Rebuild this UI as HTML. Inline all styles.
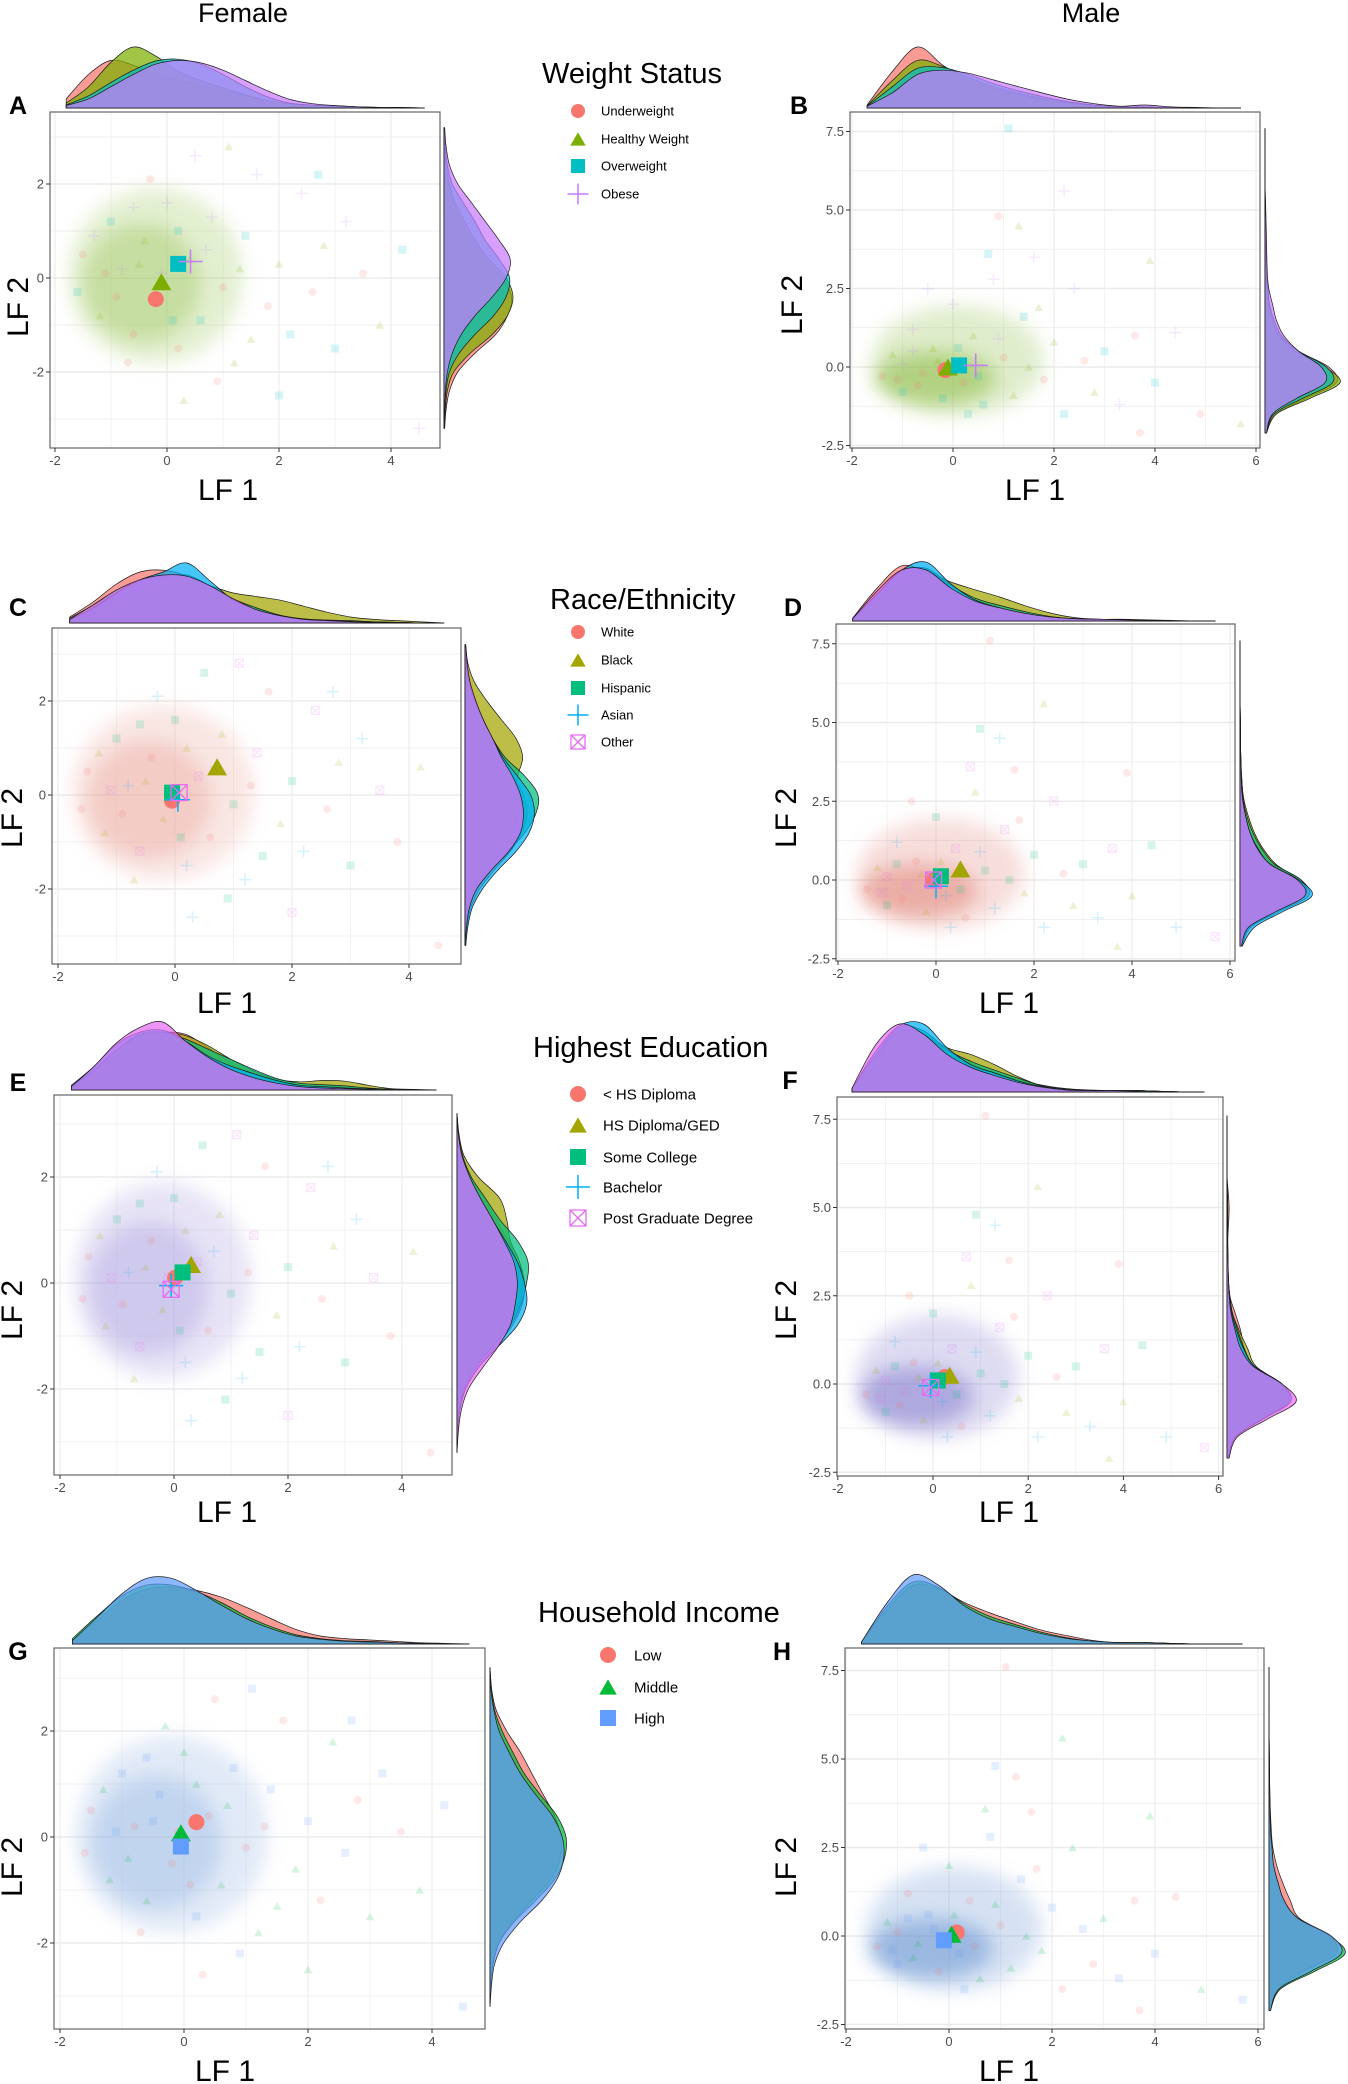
<!DOCTYPE html>
<html><head><meta charset="utf-8">
<style>
html,body{margin:0;padding:0;background:#fff;}
svg{display:block;font-family:"Liberation Sans",Arial,sans-serif;}
</style></head>
<body>
<svg id="fig" width="1348" height="2084" viewBox="0 0 1348 2084" xmlns="http://www.w3.org/2000/svg">
<defs>
<filter id="blur" x="-50%" y="-50%" width="200%" height="200%"><feGaussianBlur stdDeviation="9"/></filter>
</defs>
<text x="243" y="22" font-size="27" text-anchor="middle">Female</text>
<text x="1091" y="22" font-size="27" text-anchor="middle">Male</text>
</svg>
<script>
// ---------- data ----------
const femaleTopGrid = [-1.8,-1.4,-1,-0.6,-0.2,0.2,0.6,1,1.4,1.8,2.2,2.6,3,3.4,3.8,4.2,4.6];
const femaleRightGrid = [-3.2,-2.8,-2.4,-2,-1.6,-1.2,-0.8,-0.4,0,0.4,0.8,1.2,1.6,2,2.4,2.8,3.2];
const maleTopGrid = [-1.7,-1.2,-0.7,-0.2,0.3,0.8,1.3,1.8,2.3,2.8,3.3,3.8,4.3,4.8,5.3,5.7];
const maleRightGrid = [-2.1,-1.5,-1,-0.5,0,0.5,1,1.5,2,2.5,3,4,5,6,7.6];

const weightLabels = ["Underweight","Healthy Weight","Overweight","Obese"];
const raceLabels = ["White","Black","Hispanic","Asian","Other"];
const eduLabels = ["< HS Diploma","HS Diploma/GED","Some College","Bachelor","Post Graduate Degree"];
const incomeLabels = ["Low","Middle","High"];

const femaleXTicks = [-2,0,2,4];
const femaleYTicks = [-2,0,2];
const maleXTicks = [-2,0,2,4,6];
const maleYTicks = [-2.5,0,2.5,5,7.5];
const maleYTickLabels = ["-2.5","0.0","2.5","5.0","7.5"];

// marginal densities (relative heights)
const aTop = [
 [0.15,0.55,0.78,0.7,0.55,0.45,0.38,0.3,0.2,0.12,0.06,0.03,0.02,0.01,0,0,0],
 [0.08,0.35,0.75,1.0,0.85,0.6,0.45,0.33,0.22,0.12,0.07,0.04,0.03,0.02,0.01,0,0],
 [0.05,0.2,0.42,0.62,0.77,0.8,0.72,0.55,0.35,0.18,0.08,0.05,0.04,0.02,0.01,0,0],
 [0.04,0.15,0.35,0.55,0.72,0.78,0.74,0.62,0.45,0.28,0.14,0.07,0.04,0.02,0.01,0.01,0]];
const aRight = [
 [0.01,0.03,0.08,0.2,0.45,0.75,0.92,0.98,0.85,0.6,0.4,0.25,0.14,0.07,0.03,0.01,0],
 [0,0.02,0.05,0.14,0.38,0.7,0.92,1.0,0.9,0.65,0.45,0.3,0.16,0.08,0.03,0.01,0],
 [0,0.01,0.03,0.08,0.22,0.45,0.72,0.9,0.95,0.8,0.6,0.45,0.28,0.12,0.05,0.02,0],
 [0,0.01,0.02,0.05,0.12,0.25,0.45,0.7,0.9,0.96,0.8,0.6,0.4,0.2,0.08,0.03,0.01]];
const bTop = [
 [0.05,0.6,1.0,0.7,0.45,0.32,0.22,0.14,0.08,0.03,0.01,0.01,0.01,0,0,0],
 [0.04,0.45,0.78,0.68,0.5,0.35,0.24,0.15,0.09,0.04,0.02,0.01,0.01,0,0,0],
 [0.03,0.35,0.65,0.66,0.55,0.4,0.28,0.18,0.1,0.05,0.02,0.02,0.01,0,0,0],
 [0.03,0.25,0.55,0.62,0.57,0.46,0.35,0.24,0.14,0.07,0.03,0.05,0.02,0.01,0,0]];
const bRight = [
 [0.02,0.15,0.55,0.95,0.85,0.45,0.2,0.1,0.05,0.03,0.02,0.01,0.005,0,0],
 [0.02,0.15,0.6,1.0,0.8,0.4,0.18,0.1,0.05,0.03,0.02,0.01,0.005,0,0],
 [0.02,0.12,0.5,0.9,0.82,0.45,0.22,0.12,0.06,0.04,0.02,0.01,0.005,0,0],
 [0.02,0.1,0.42,0.8,0.75,0.45,0.25,0.15,0.1,0.05,0.03,0.02,0.01,0,0]];
const cTop = [
 [0.1,0.35,0.65,0.85,0.88,0.78,0.5,0.32,0.2,0.12,0.07,0.04,0.02,0.01,0.01,0,0],
 [0.03,0.15,0.35,0.55,0.72,0.76,0.62,0.5,0.44,0.38,0.28,0.18,0.1,0.06,0.04,0.02,0],
 [0.08,0.3,0.55,0.7,0.78,0.8,0.62,0.4,0.25,0.13,0.07,0.05,0.04,0.02,0.01,0,0],
 [0.05,0.25,0.5,0.72,0.85,1.0,0.7,0.38,0.22,0.12,0.06,0.04,0.03,0.02,0.01,0,0],
 [0.06,0.3,0.55,0.72,0.8,0.78,0.62,0.4,0.22,0.12,0.06,0.04,0.02,0.01,0.01,0,0]];
const cRight = [
 [0.01,0.03,0.08,0.2,0.4,0.62,0.78,0.85,0.8,0.65,0.5,0.38,0.25,0.14,0.06,0.02,0],
 [0,0.01,0.04,0.12,0.3,0.5,0.65,0.72,0.7,0.72,0.79,0.7,0.5,0.3,0.13,0.04,0.01],
 [0,0.02,0.06,0.16,0.36,0.6,0.82,0.97,1.0,0.82,0.55,0.38,0.25,0.14,0.06,0.02,0],
 [0.01,0.04,0.1,0.24,0.45,0.7,0.88,0.95,0.9,0.72,0.52,0.38,0.25,0.14,0.06,0.02,0],
 [0,0.02,0.06,0.16,0.36,0.6,0.76,0.8,0.76,0.65,0.5,0.38,0.25,0.15,0.07,0.03,0.01]];
const dTop = [
 [0.05,0.55,0.92,0.8,0.5,0.3,0.2,0.12,0.06,0.03,0.02,0.02,0.01,0,0,0],
 [0.03,0.35,0.7,0.82,0.65,0.52,0.4,0.26,0.14,0.06,0.03,0.03,0.02,0.01,0,0],
 [0.04,0.45,0.82,0.88,0.6,0.38,0.26,0.16,0.08,0.04,0.03,0.02,0.01,0,0,0],
 [0.04,0.45,0.85,0.98,0.62,0.35,0.22,0.13,0.07,0.04,0.03,0.02,0.01,0,0,0],
 [0.04,0.5,0.85,0.85,0.55,0.33,0.22,0.13,0.07,0.04,0.03,0.02,0.01,0,0,0]];
const dRight = [
 [0.03,0.15,0.55,0.95,0.85,0.45,0.25,0.13,0.07,0.04,0.02,0.01,0.005,0,0],
 [0.02,0.12,0.45,0.85,0.8,0.5,0.32,0.2,0.12,0.06,0.03,0.01,0.005,0,0],
 [0.02,0.12,0.5,0.9,0.85,0.48,0.3,0.18,0.1,0.05,0.03,0.01,0.005,0,0],
 [0.03,0.2,0.6,1.0,0.82,0.42,0.25,0.14,0.08,0.04,0.02,0.01,0.005,0,0],
 [0.02,0.12,0.5,0.9,0.8,0.42,0.24,0.14,0.08,0.04,0.02,0.01,0.005,0,0]];
const eTop = [
 [0.05,0.3,0.6,0.8,0.85,0.82,0.62,0.4,0.24,0.13,0.06,0.05,0.04,0.02,0.01,0,0],
 [0.04,0.28,0.58,0.8,0.85,0.8,0.65,0.45,0.28,0.16,0.12,0.14,0.13,0.07,0.02,0.01,0],
 [0.05,0.3,0.6,0.82,0.85,0.75,0.6,0.45,0.3,0.17,0.1,0.08,0.06,0.03,0.01,0,0],
 [0.07,0.35,0.68,0.85,0.88,0.72,0.5,0.35,0.24,0.14,0.07,0.05,0.03,0.02,0.01,0,0],
 [0.05,0.35,0.7,0.92,1.0,0.72,0.48,0.3,0.18,0.1,0.05,0.03,0.02,0.01,0,0,0]];
const eRight = [
 [0,0.01,0.04,0.12,0.3,0.55,0.78,0.92,0.95,0.88,0.72,0.55,0.38,0.2,0.08,0.02,0],
 [0,0.01,0.03,0.1,0.25,0.5,0.72,0.88,0.92,0.88,0.75,0.7,0.6,0.3,0.1,0.03,0],
 [0,0.01,0.03,0.1,0.25,0.5,0.75,0.9,0.98,1.0,0.85,0.6,0.4,0.2,0.08,0.02,0],
 [0,0.01,0.04,0.12,0.3,0.58,0.85,0.98,0.95,0.85,0.68,0.5,0.33,0.18,0.07,0.02,0],
 [0,0.02,0.06,0.16,0.36,0.58,0.75,0.82,0.85,0.8,0.66,0.5,0.33,0.18,0.07,0.02,0]];
const fTop = [
 [0.05,0.55,0.9,0.85,0.6,0.42,0.28,0.18,0.1,0.05,0.03,0.02,0.02,0.01,0,0],
 [0.04,0.5,0.9,0.85,0.65,0.55,0.4,0.22,0.09,0.04,0.02,0.02,0.02,0.01,0,0],
 [0.05,0.55,0.95,0.9,0.62,0.45,0.32,0.2,0.09,0.04,0.02,0.02,0.02,0.01,0,0],
 [0.05,0.6,0.98,1.0,0.65,0.4,0.28,0.16,0.08,0.04,0.02,0.02,0.02,0.01,0,0],
 [0.06,0.7,1.0,0.85,0.55,0.36,0.24,0.14,0.07,0.03,0.02,0.02,0.01,0,0,0]];
const fRight = [
 [0.02,0.12,0.45,0.85,0.75,0.4,0.25,0.2,0.12,0.04,0.02,0.01,0.03,0,0],
 [0.02,0.12,0.5,0.88,0.78,0.42,0.3,0.18,0.08,0.04,0.02,0.01,0.01,0,0],
 [0.02,0.12,0.5,0.9,0.78,0.4,0.25,0.16,0.08,0.04,0.02,0.01,0.01,0,0],
 [0.02,0.13,0.52,0.92,0.8,0.4,0.24,0.14,0.07,0.04,0.02,0.01,0.01,0,0],
 [0.03,0.15,0.58,1.0,0.8,0.38,0.2,0.12,0.06,0.03,0.02,0.01,0.005,0,0]];
const gTop = [
 [0.05,0.35,0.65,0.82,0.85,0.8,0.7,0.55,0.38,0.22,0.12,0.08,0.06,0.04,0.02,0.01,0],
 [0.08,0.42,0.72,0.88,0.88,0.78,0.62,0.42,0.26,0.14,0.08,0.05,0.04,0.02,0.01,0,0],
 [0.05,0.4,0.75,0.98,0.98,0.8,0.58,0.38,0.23,0.12,0.07,0.04,0.03,0.02,0.01,0,0]];
const gRight = [
 [0,0.01,0.04,0.12,0.3,0.55,0.8,0.92,0.93,0.85,0.7,0.55,0.4,0.22,0.08,0.02,0],
 [0,0.01,0.04,0.12,0.32,0.6,0.85,0.98,1.0,0.88,0.66,0.45,0.3,0.16,0.06,0.02,0],
 [0,0.02,0.06,0.18,0.4,0.68,0.88,0.97,0.95,0.82,0.6,0.4,0.25,0.12,0.05,0.01,0]];
const hTop = [
 [0.03,0.5,0.85,0.8,0.6,0.45,0.32,0.2,0.12,0.05,0.02,0.02,0.01,0,0,0],
 [0.03,0.55,0.9,0.82,0.58,0.4,0.28,0.17,0.09,0.04,0.02,0.02,0.01,0,0,0],
 [0.03,0.6,1.0,0.85,0.55,0.36,0.25,0.15,0.08,0.04,0.02,0.02,0.01,0,0,0]];
const hRight = [
 [0.02,0.12,0.45,0.88,0.8,0.4,0.28,0.18,0.1,0.05,0.03,0.01,0.005,0,0],
 [0.02,0.15,0.6,1.0,0.8,0.38,0.2,0.12,0.06,0.04,0.02,0.01,0.005,0,0],
 [0.02,0.13,0.55,0.95,0.82,0.38,0.2,0.12,0.06,0.04,0.02,0.01,0.005,0,0]];

// group centroids [LF1, LF2]
const aCent = [[-0.2,-0.45],[-0.1,-0.08],[0.2,0.3],[0.42,0.35]];
const bCent = [[-0.15,-0.1],[-0.1,0.0],[0.12,0.05],[0.45,0.05]];
const cCent = [[-0.05,-0.12],[0.72,0.6],[-0.05,0.05],[0.05,-0.1],[0.07,0.05]];
const dCent = [[-0.05,0.0],[0.5,0.35],[0.1,0.12],[0.0,-0.2],[-0.05,0.0]];
const eCent = [[0.02,0.1],[0.3,0.35],[0.15,0.2],[-0.05,-0.05],[-0.05,-0.12]];
const fCent = [[0.25,0.2],[0.35,0.25],[0.1,0.1],[-0.05,-0.05],[-0.05,-0.1]];
const gCent = [[0.2,0.28],[-0.05,0.08],[-0.05,-0.18]];
const hCent = [[0.15,0.1],[0.05,0.05],[-0.1,-0.12]];

// individual (faint) observations [LF1, LF2]
const femalePts = [[-1.5,0.5],[-1.2,-0.8],[-1,1.2],[-0.8,0.2],[-0.6,-1.2],[-0.4,0.8],[-0.2,-0.5],[0,1.6],[0.2,-1.5],[0.4,0.4],
 [0.6,-0.9],[0.8,1.3],[1,-0.2],[1.2,-1.8],[1.4,0.9],[1.6,2.2],[1.8,-0.6],[2,0.3],[2.2,-1.2],[2.4,1.8],
 [2.6,-0.3],[2.8,0.7],[3,-1.5],[3.2,1.2],[3.5,0.1],[3.8,-1.0],[4.2,0.6],[0.5,2.6],[-0.3,2.1],[1.1,2.8],
 [-1.6,-0.3],[-1.3,0.9],[0.9,-2.2],[0.3,-2.6],[2.0,-2.5],[4.5,-3.2],[-0.7,-1.8],[1.5,-1.3],[2.7,2.2],[-0.1,0.1],
 [-0.9,-0.4],[-0.5,0.3],[0.1,-0.9],[0.7,0.6],[-1.1,0.1],[1.3,0.2],[0.2,1.0],[-0.6,1.5]];
const malePts = [[-1.4,-0.3],[-1.2,0.4],[-1,-0.8],[-0.8,1.2],[-0.6,-0.2],[-0.4,0.6],[-0.2,-1.0],[0,2.0],[0.2,-0.5],[0.4,1.0],
 [0.6,-1.2],[0.8,2.8],[1,0.3],[1.2,-0.9],[1.4,1.6],[1.6,3.5],[1.8,-0.4],[2.0,0.8],[2.2,-1.5],[2.4,2.5],
 [2.6,0.2],[2.8,-0.8],[3.0,0.5],[3.3,-1.2],[3.6,1.0],[3.9,3.4],[4.0,-0.5],[4.4,1.1],[4.9,-1.5],[5.7,-1.8],
 [1.1,7.6],[2.2,5.6],[0.9,4.8],[1.3,4.5],[0.7,3.6],[-0.5,2.5],[3.7,-2.1],[1.5,0.0],[0.3,-1.5],[-1.0,0.1],
 [-0.7,-0.6],[-0.3,0.2],[0.5,-0.3],[0.9,0.9],[-1.1,-0.4],[1.7,1.9],[0.1,0.6],[-0.8,0.5]];

// ---------- styles ----------
const colsWeight = ["#F8766D","#7CAE00","#00BFC4","#C77CFF"];
const cols5 = ["#F8766D","#A3A500","#00BF7D","#00B0F6","#E76BF3"];
const colsInc = ["#F8766D","#00BA38","#619CFF"];
const shapes4 = ["circle","triangle","square","plus"];
const shapes5 = ["circle","triangle","square","plus","boxx"];
const shapes3 = ["circle","triangle","square"];

const svg = document.getElementById('fig');
const NS = "http://www.w3.org/2000/svg";
function mk(tag, attrs, parent){ const e=document.createElementNS(NS,tag); for(const k in attrs) e.setAttribute(k,attrs[k]); (parent||svg).appendChild(e); return e; }

function glyph(g, kind, cx, cy, s, color, op){
  let e;
  if(kind==="circle"){ e=mk('circle',{cx,cy,r:s/2,fill:color,'fill-opacity':op},g); }
  else if(kind==="triangle"){ const h=s*0.95; e=mk('polygon',{points:`${cx-s/2*1.1},${cy+h/2} ${cx+s/2*1.1},${cy+h/2} ${cx},${cy-h/2}`,fill:color,'fill-opacity':op},g); }
  else if(kind==="square"){ e=mk('rect',{x:cx-s/2,y:cy-s/2,width:s,height:s,fill:color,'fill-opacity':op},g); }
  else if(kind==="plus"){ const r=s*0.75; e=mk('path',{d:`M${cx-r},${cy}H${cx+r}M${cx},${cy-r}V${cy+r}`,stroke:color,'stroke-opacity':op,'stroke-width':1.5,fill:'none'},g); }
  else { const r=s/2; e=mk('path',{d:`M${cx-r},${cy-r}h${s}v${s}h${-s}zM${cx-r},${cy-r}L${cx+r},${cy+r}M${cx+r},${cy-r}L${cx-r},${cy+r}`,stroke:color,'stroke-opacity':op,'stroke-width':1.3,fill:'none'},g); }
  return e;
}

function smoothPath(pts){
  let d=`M${pts[0][0]},${pts[0][1]}`;
  for(let i=0;i<pts.length-1;i++){
    const p0=pts[Math.max(0,i-1)],p1=pts[i],p2=pts[i+1],p3=pts[Math.min(pts.length-1,i+2)];
    const c1=[p1[0]+(p2[0]-p0[0])/6,p1[1]+(p2[1]-p0[1])/6];
    const c2=[p2[0]-(p3[0]-p1[0])/6,p2[1]-(p3[1]-p1[1])/6];
    d+=`C${c1[0].toFixed(1)},${c1[1].toFixed(1)} ${c2[0].toFixed(1)},${c2[1].toFixed(1)} ${p2[0].toFixed(1)},${p2[1].toFixed(1)}`;
  }
  return d;
}

function panel(P){
  const g=mk('g',{});
  
  
  const [L,T,R,B]=P.box;
  const X=v=>P.x0+P.xs*v, Y=v=>P.y0-P.ys*v;
  const bg=mk('rect',{x:L,y:T,width:R-L,height:B-T,fill:'#fff'},g);
  
  
  const xt=P.xticks, yt=P.yticks;
  const xstep=xt[1]-xt[0], ystep=yt[1]-yt[0];
  for(let v=xt[0]-xstep/2; v<=xt[xt.length-1]+xstep; v+=xstep/2){
    const px=X(v); if(px<L+1||px>R-1) continue;
    const major=xt.some(t=>Math.abs(t-v)<1e-6);
    mk('line',{x1:px,x2:px,y1:T,y2:B,stroke:'#ebebeb','stroke-width':major?1.1:0.6},g);
  }
  for(let v=yt[0]-ystep; v<=yt[yt.length-1]+ystep; v+=ystep/2){
    const py=Y(v); if(py<T+1||py>B-1) continue;
    const major=yt.some(t=>Math.abs(t-v)<1e-6);
    mk('line',{x1:L,x2:R,y1:py,y2:py,stroke:'#ebebeb','stroke-width':major?1.6:0.8},g);
  }
  // clouds (visual density of overplotted points)
  const cg=mk('g',{clip:'none'},g);
  
  
  P.clouds.forEach(c=>{
    mk('ellipse',{cx:X(c[0]),cy:Y(c[1]),rx:c[2]*P.xs,ry:c[3]*P.ys,fill:P.cloudColor,'fill-opacity':c[4],filter:'url(#blur)'},cg);
  });
  const pg=mk('g',{},g);
  
  
  P.pts.forEach((p,i)=>{
    const k=i%P.cols.length;
    const e=glyph(pg,P.shapes[k],X(p[0]),Y(p[1]),8,P.cols[k],0.16);
    
    
  });
  P.cent.forEach((c,k)=>{
    const e=glyph(g,P.shapes[k],X(c[0]),Y(c[1]),k===1?18:16,P.cols[k],1);
    
    
  });
  const bd=mk('rect',{x:L,y:T,width:R-L,height:B-T,fill:'none',stroke:'#666','stroke-width':1.2},g);
  
  
  xt.forEach((t,i)=>{
    const px=X(t);
    mk('line',{x1:px,x2:px,y1:B,y2:B+4,stroke:'#333','stroke-width':1},g);
    const tx=mk('text',{x:px,y:B+17,'font-size':13,fill:'#4d4d4d','text-anchor':'middle'},g);
    tx.textContent=String(t);
    
    
  });
  yt.forEach((t,i)=>{
    const py=Y(t);
    mk('line',{x1:L-4,x2:L,y1:py,y2:py,stroke:'#333','stroke-width':1},g);
    const tx=mk('text',{x:L-6,y:py+4.5,'font-size':13,fill:'#4d4d4d','text-anchor':'end'},g);
    tx.textContent=P.ytickLabels?P.ytickLabels[i]:String(t);
    
    
  });
  const tg=mk('g',{},g);
  
  
  P.top.forEach((arr,k)=>{
    const pts=arr.map((v,i)=>[X(P.tgrid[i]),P.tBase-v*P.tH]);
    const d=`M${pts[0][0]},${P.tBase}L`+smoothPath(pts).slice(1)+`L${pts[pts.length-1][0]},${P.tBase}Z`;
    const e=mk('path',{d,fill:P.cols[k],'fill-opacity':0.72,stroke:'#1a1a1a','stroke-width':0.7},tg);
    
    
  });
  const rg=mk('g',{},g);
  
  
  P.right.forEach((arr,k)=>{
    const pts=arr.map((v,i)=>[P.rBase+v*P.rW,Y(P.rgrid[i])]);
    const d=`M${P.rBase},${pts[0][1]}L`+smoothPath(pts).slice(1)+`L${P.rBase},${pts[pts.length-1][1]}Z`;
    const e=mk('path',{d,fill:P.cols[k],'fill-opacity':0.72,stroke:'#1a1a1a','stroke-width':0.7},rg);
    
    
  });
  const xl=mk('text',{x:P.xlab[0],y:P.xlab[1]+10,'font-size':30,'text-anchor':'middle'},g);
  xl.textContent='LF 1';
  
  
  const yl=mk('text',{x:0,y:0,'font-size':30,'text-anchor':'middle',transform:`translate(${P.ylab[0]+10},${P.ylab[1]}) rotate(-90)`},g);
  yl.textContent='LF 2';
  
  
  const lt=mk('text',{x:P.letter[0],y:P.letter[1]+9,'font-size':25,'font-weight':'bold','text-anchor':'middle'},g);
  lt.textContent=P.tag;
  
  
}

function legend(Lg){
  const g=mk('g',{});
  
  
  const t=mk('text',{x:Lg.tx,y:Lg.ty,'font-size':29},g);
  t.textContent=Lg.title;
  
  
  Lg.labels.forEach((lab,k)=>{
    const cy=Lg.ys[k];
    const e=glyph(g,Lg.shapes[k],Lg.mx,cy,Lg.ms,Lg.cols[k],1);
    
    
    const tx=mk('text',{x:Lg.lx,y:cy+Lg.fs*0.36,'font-size':Lg.fs},g);
    tx.textContent=lab;
    
    
  });
}

const fClouds=[[-0.2,0.05,1.55,1.85,0.28],[-0.45,-0.1,1.05,1.25,0.4]];
const mClouds=[[0.1,0.2,1.7,1.75,0.26],[-0.35,-0.35,1.2,0.85,0.5]];
const F={xticks:femaleXTicks,yticks:femaleYTicks,tgrid:femaleTopGrid,rgrid:femaleRightGrid,pts:femalePts,clouds:fClouds};
const M={xticks:maleXTicks,yticks:maleYTicks,ytickLabels:maleYTickLabels,tgrid:maleTopGrid,rgrid:maleRightGrid,pts:malePts,clouds:mClouds};

panel(Object.assign({},F,{name:'panel-a-female-weight',tag:'A',box:[50,112,440,448],x0:167,xs:56,y0:278,ys:47,tBase:108,tH:61,rBase:444,rW:69,
 top:aTop,right:aRight,cent:aCent,cols:colsWeight,shapes:shapes4,labels:weightLabels,cloudColor:'#9cc45a',
 xlab:[228,490],ylab:[18,307],letter:[18,105]}));
panel(Object.assign({},M,{name:'panel-b-male-weight',tag:'B',box:[850,112,1260,448],x0:953,xs:50.5,y0:367,ys:31.4,tBase:108,tH:61,rBase:1265,rW:75,
 top:bTop,right:bRight,cent:bCent,cols:colsWeight,shapes:shapes4,labels:weightLabels,cloudColor:'#86b83a',
 xlab:[1035,490],ylab:[792,305],letter:[799,105]}));
panel(Object.assign({},F,{name:'panel-c-female-race',tag:'C',box:[52,628,461,964],x0:175,xs:58.5,y0:795,ys:47,tBase:623,tH:60,rBase:465,rW:73,
 top:cTop,right:cRight,cent:cCent,cols:cols5,shapes:shapes5,labels:raceLabels,cloudColor:'#eba69c',
 xlab:[227,1003],ylab:[12,818],letter:[18,607]}));
panel(Object.assign({},M,{name:'panel-d-male-race',tag:'D',box:[836,624,1235,961],x0:936,xs:49,y0:880,ys:31.5,tBase:621,tH:60,rBase:1240,rW:72,
 top:dTop,right:dRight,cent:dCent,cols:cols5,shapes:shapes5,labels:raceLabels,cloudColor:'#e07f72',
 xlab:[1009,1003],ylab:[786,818],letter:[793,607]}));
panel(Object.assign({},F,{name:'panel-e-female-education',tag:'E',box:[54,1095,452,1475],x0:174,xs:57,y0:1283,ys:53,tBase:1090,tH:68,rBase:457,rW:71,
 top:eTop,right:eRight,cent:eCent,cols:cols5,shapes:shapes5,labels:eduLabels,cloudColor:'#ad9fe0',
 xlab:[227,1512],ylab:[12,1310],letter:[18,1082]}));
panel(Object.assign({},M,{name:'panel-f-male-education',tag:'F',box:[837,1097,1223,1476],x0:933,xs:47.6,y0:1384,ys:35.3,tBase:1092,tH:68,rBase:1227,rW:69,
 top:fTop,right:fRight,cent:fCent,cols:cols5,shapes:shapes5,labels:eduLabels,cloudColor:'#8078cc',
 xlab:[1009,1512],ylab:[786,1310],letter:[790,1080]}));
panel(Object.assign({},F,{name:'panel-g-female-income',tag:'G',box:[54,1648,485,2029],x0:184,xs:62,y0:1837,ys:53,tBase:1644,tH:67,rBase:490,rW:76,
 top:gTop,right:gRight,cent:gCent,cols:colsInc,shapes:shapes3,labels:incomeLabels,cloudColor:'#94b4e4',
 xlab:[225,2071],ylab:[12,1867],letter:[18,1651]}));
panel(Object.assign({},M,{name:'panel-h-male-income',tag:'H',box:[845,1648,1264,2029],x0:949,xs:51.5,y0:1936,ys:35.4,tBase:1644,tH:69,rBase:1269,rW:76,
 top:hTop,right:hRight,cent:hCent,cols:colsInc,shapes:shapes3,labels:incomeLabels,cloudColor:'#5f90d0',
 xlab:[1009,2071],ylab:[786,1867],letter:[782,1651]}));

legend({name:'legend-weight-status',title:'Weight Status',tx:542,ty:83,labels:weightLabels,cols:colsWeight,shapes:shapes4,mx:578,lx:601,ys:[111,139,166,194],ms:14,fs:13});
legend({name:'legend-race-ethnicity',title:'Race/Ethnicity',tx:550,ty:609,labels:raceLabels,cols:cols5,shapes:shapes5,mx:578,lx:601,ys:[632,660,688,715,742],ms:14,fs:13});
legend({name:'legend-highest-education',title:'Highest Education',tx:533,ty:1057,labels:eduLabels,cols:cols5,shapes:shapes5,mx:578,lx:603,ys:[1094,1125,1157,1187,1218],ms:16,fs:15});
legend({name:'legend-household-income',title:'Household Income',tx:538,ty:1622,labels:incomeLabels,cols:colsInc,shapes:shapes3,mx:608,lx:634,ys:[1655,1687,1718],ms:16,fs:15});
</script>
</body></html>
